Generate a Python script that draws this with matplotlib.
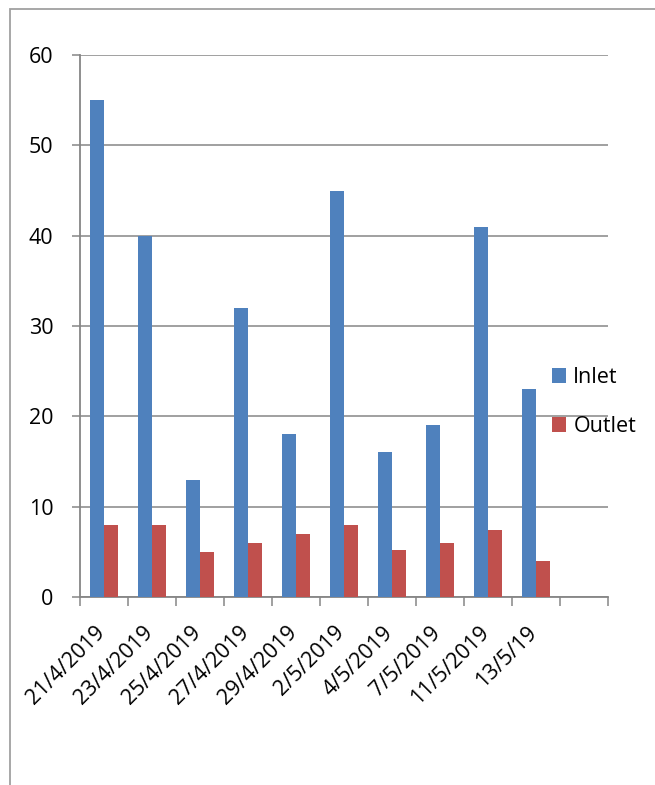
import matplotlib
matplotlib.use("Agg")
import matplotlib.pyplot as plt
import matplotlib.transforms as mtransforms
from matplotlib.patches import Rectangle
import numpy as np

plt.rcParams['font.family'] = ['Open Sans', 'DejaVu Sans']

dates = ['21/4/2019', '23/4/2019', '25/4/2019', '27/4/2019', '29/4/2019',
         '2/5/2019', '4/5/2019', '7/5/2019', '11/5/2019', '13/5/19']
inlet = [55, 40, 13, 32, 18, 45, 16, 19, 41, 23]
outlet = [8, 8, 5, 6, 7, 8, 5.2, 6, 7.4, 4]
n_slots = 11  # one empty category slot after the last date

blue = '#4F81BD'
red = '#C0504D'
grey = '#868686'

fig = plt.figure(figsize=(6.55, 7.85), dpi=100)
ax = fig.add_axes([80 / 655, 1 - 597 / 785, 528 / 655, 542 / 785])

# outer frame of the chart area (left and top edges visible)
fig.patches.append(Rectangle((10 / 655, -0.05), 1.2, 1 - 9 / 785 + 0.05,
                             transform=fig.transFigure, fill=False,
                             edgecolor='#a0a0a0', linewidth=1.3))

x = np.arange(len(dates))
w = 1 / 3.5
ax.bar(x - w / 2, inlet, w, color=blue, label='Inlet', zorder=3)
ax.bar(x + w / 2, outlet, w, color=red, label='Outlet', zorder=3)

ax.set_xlim(-0.5, n_slots - 0.5)
ax.set_ylim(0, 60)
ax.set_yticks(range(0, 61, 10))
ax.yaxis.grid(True, color=grey, linewidth=1.1, zorder=0)
ax.tick_params(axis='y', direction='out', length=6, width=1.1, color=grey,
               pad=13, labelsize=15.5)

# ticks at the category boundaries, labels at the centres
ax.set_xticks(np.arange(n_slots + 1) - 0.5)
ax.set_xticklabels([])
ax.tick_params(axis='x', which='major', direction='out', length=6.5,
               width=1.1, color=grey)
ax.set_xticks(x, minor=True)
ax.set_xticklabels(dates, minor=True, rotation=45, ha='right', va='top',
                   fontsize=15.5)
ax.tick_params(axis='x', which='minor', length=0, pad=18)
shift = mtransforms.ScaledTranslation(5 / 100, 0, fig.dpi_scale_trans)
for lbl in ax.get_xticklabels(minor=True):
    lbl.set_transform(lbl.get_transform() + shift)

for s in ['top', 'right']:
    ax.spines[s].set_visible(False)
for s in ['left', 'bottom']:
    ax.spines[s].set_color(grey)
    ax.spines[s].set_linewidth(1.3)

ax.legend(loc='center left', bbox_to_anchor=(541 / 655, 1 - 402 / 785),
          bbox_transform=fig.transFigure, frameon=False, fontsize=15.5,
          handlelength=0.65, handleheight=0.65, handletextpad=0.35,
          labelspacing=1.3, borderpad=0)

fig.savefig('out.png', dpi=100)
